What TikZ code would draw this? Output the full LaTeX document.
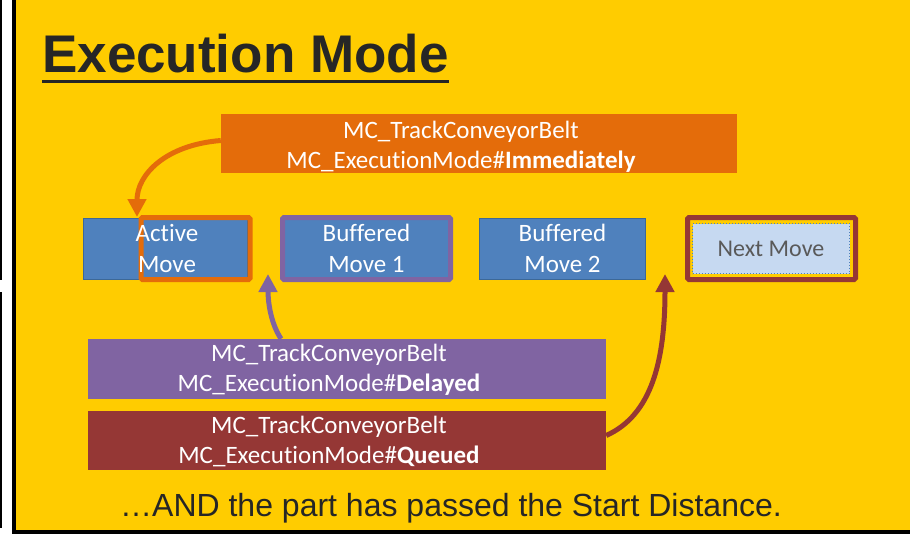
\documentclass[tikz,border=0pt]{standalone}
\usepackage{fontspec}
\setmainfont{Carlito}[Ligatures={NoCommon,NoContextual}]
\newfontfamily\arialfont{Liberation Sans}
\usetikzlibrary{arrows.meta}
\definecolor{bgyellow}{HTML}{FFCC00}
\definecolor{orangec}{HTML}{E46C0A}
\definecolor{bluefill}{HTML}{4F81BD}
\definecolor{blueedge}{HTML}{3C6898}
\definecolor{purplec}{HTML}{8064A2}
\definecolor{redc}{HTML}{953735}
\definecolor{lightblue}{HTML}{C6D9F1}
\definecolor{darktext}{HTML}{262626}
\definecolor{greytext}{HTML}{595959}
\newcommand{\execmode}{MC\_Execu\kern0ptt\kern0ption\kern0ptMode\#}
\tikzset{
  cmdbox/.style={minimum width=518pt, minimum height=59pt, inner sep=0pt},
  cmdtext/.style={text=white, align=center, inner sep=0pt, font=\fontsize{25}{30}\selectfont},
  movebox/.style={draw=blueedge, fill=bluefill, line width=1pt, minimum width=164pt, minimum height=61pt, inner sep=0pt},
  movetext/.style={text=white, align=center, font=\fontsize{25}{31}\selectfont, inner sep=0pt},
  frame/.style={line width=5pt, rounded corners=1.5pt, minimum width=168pt, minimum height=62pt, inner sep=0pt},
  arr/.style={line width=5pt, -{Triangle[length=18pt,width=18pt]}}
}
\begin{document}
\begin{tikzpicture}[x=1pt,y=-1pt]
\useasboundingbox (0,0) rectangle (910,535);
\fill[white] (0,0) rectangle (910,535);
\fill[bgyellow] (14,0) rectangle (910,532);
\draw[black, line width=4pt] (14,0) -- (14,532) -- (910,532);
\draw[black, line width=2pt] (1,0) -- (1,280);
\draw[black, line width=2pt] (1,292) -- (1,528);
% title
\node[anchor=base west, inner sep=0pt, text=darktext, font=\arialfont\bfseries\fontsize{53}{60}\selectfont] (title) at (42,73) {Execution Mode};
\draw[darktext, line width=3.5pt] ([yshift=-8.5pt]title.base west) -- ([yshift=-8.5pt]title.base east);
% command boxes
\node[cmdbox, fill=orangec, minimum width=516pt] (ibox) at (479,143.5) {};
\node[cmdtext] (itext) at ([xshift=-18pt,yshift=-3pt]ibox.center) {MC\_TrackConveyorBelt\\\execmode\textbf{Immediately}};
\node[cmdbox, fill=purplec, minimum height=60pt] (dbox) at (347,369) {};
\node[cmdtext] (dtext) at ([xshift=-18pt,yshift=-1pt]dbox.center) {MC\_TrackConveyorBelt\\\execmode\textbf{Delayed}};
\node[cmdbox, fill=redc] (qbox) at (347,440.5) {};
\node[cmdtext] (qtext) at ([xshift=-18pt,yshift=-1pt]qbox.center) {MC\_TrackConveyorBelt\\\execmode\textbf{Queued}};
% moves
\node[movebox] (active) at (165,248.5) {};
\node[frame, draw=orangec, minimum width=109pt, minimum height=62pt] (actframe) at (195.5,248.5) {};
\node[movetext] (acttext) at ([xshift=2pt]active.center) {Active\\Move};
\node[frame, draw=purplec, fill=bluefill, minimum width=168pt] (buf1) at (366.5,248.5) {};
\node[movetext] (buf1text) at (buf1.center) {Buffered\\Move 1};
\node[movebox, minimum width=166pt] (buf2) at (562.5,248.5) {};
\node[movetext] (buf2text) at (buf2.center) {Buffered\\Move 2};
\node[frame, draw=redc, minimum width=168pt] (nextframe) at (771.5,248.5) {};
\node[draw=bluefill, dotted, line width=1pt, fill=lightblue, minimum width=157pt, minimum height=50pt, inner sep=0pt, text=greytext, font=\fontsize{24}{30}\selectfont] (next) at (771,248.5) {Next Move};
% arrows
\coordinate (itip) at (137,217);
\coordinate (dtip) at (268,274);
\coordinate (qtip) at (665,274);
\draw[arr, orangec] ([yshift=3pt]ibox.west) .. controls (165,145) and (137,175) .. (itip);
\draw[arr, purplec] ([xshift=-66pt]dbox.north) .. controls (270,322) and (268,300) .. (dtip);
\draw[arr, redc] ([yshift=5pt]qbox.east) .. controls (652,415) and (665,360) .. (qtip);
% footer
\node[anchor=base, inner sep=0pt, text=darktext, font=\arialfont\fontsize{32}{36}\selectfont] (footer) at (451,516) {\ldots AND the part has passed the Start Distance.};
\end{tikzpicture}
\end{document}
